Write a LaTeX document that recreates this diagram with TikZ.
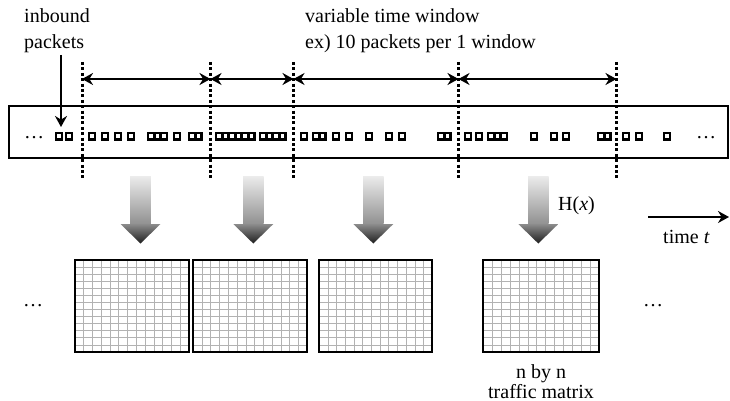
\documentclass[tikz,border=0pt]{standalone}
\usepackage{fontspec}
\setmainfont{Liberation Serif}
\usetikzlibrary{arrows.meta}
\begin{document}
\begin{tikzpicture}[x=1pt,y=-1pt,
  lbl/.style={font=\fontsize{20}{24}\selectfont, inner sep=0pt, anchor=base west},
  clbl/.style={font=\fontsize{20}{24}\selectfont, inner sep=0pt, anchor=base},
  dotln/.style={line width=3pt, dash pattern=on 3pt off 2.4pt},
  winarr/.style={line width=1.8pt, arrows={Stealth[length=11pt,width=12pt]-Stealth[length=11pt,width=12pt]}},
  onearr/.style={line width=1.8pt, -{Stealth[length=11pt,width=12pt]}},
  pkt/.style={line width=2.2pt},
  gridln/.style={line width=0.7pt, gray!60},
  mbox/.style={draw, line width=2pt, inner sep=0pt, minimum height=92pt}
]
\useasboundingbox (0,0) rectangle (730,401);
\fill[white] (0,0) rectangle (730,401);

% top labels
\node[lbl] (in1) at (24,23) {inbound};
\node[lbl] (in2) at (24,49) {packets};
\node[lbl] (vt1) at (305,23) {variable time window};
\node[lbl] (vt2) at (305,49) {ex) 10 packets per 1 window};

% timeline box
\draw[line width=2pt] (9,106) rectangle (728,158);
\node[lbl] (ldots) at (24,139) {\dots};
\node[lbl] (rdots) at (696,139) {\dots};

% packets
\foreach \px in {55,65,88,101,114,127,147,153.5,160,173,188,194.5,
  215,221.5,228,234.5,241,247.5,259,265.5,272,278.5,
  300,312,318.5,332,345,365,385,398,437,443.5,
  464,475,487,493.5,500,530,550,562,597,603.5,622,635,663}
  \draw[pkt] (\px+1.1,132.6) rectangle (\px+6.9,139.4);

% inbound arrow
\coordinate (ia) at (61,55);
\coordinate (ib) at (61,127);
\draw[onearr] (ia) -- (ib);

% window boundaries
\foreach \n/\xx in {1/82,2/210.5,3/293.5,4/458.5,5/616.5}{
  \coordinate (t\n) at (\xx,62);
  \coordinate (b\n) at (\xx,179);
  \coordinate (w\n) at (\xx,79);
  \draw[dotln] (t\n) -- (b\n);
}
\draw[winarr] (w1) -- (w2);
\draw[winarr] (w2) -- (w3);
\draw[winarr] (w3) -- (w4);
\draw[winarr] (w4) -- (w5);

% hash arrows
\foreach \cx in {140.5,253.3,373.3,538.3}{
  \shade[top color=gray!15, bottom color=gray!85] (\cx-10.3,176) rectangle (\cx+10.3,223);
  \shade[top color=gray!90, bottom color=black!88] (\cx-20,224) -- (\cx+20,224) -- (\cx,243.5) -- cycle;
}
\node[lbl] (hx) at (558,210) {H(\textit{x})};

% time arrow
\coordinate (ta) at (648,217);
\coordinate (tb) at (729,217);
\draw[onearr] (ta) -- (tb);
\node[lbl] (tt) at (663,243) {time \textit{t}};

% traffic matrices
\foreach \n/\xa/\xb in {1/75/189,2/193.3/307.3,3/319.3/432.3,4/483.3/599.3}{
  \foreach \i in {1,...,12}{
    \draw[gridln] ({\xa+\i*(\xb-\xa)/13},260) -- ({\xa+\i*(\xb-\xa)/13},352);
    \draw[gridln] (\xa,{260+\i*92/13}) -- (\xb,{260+\i*92/13});
  }
  \node[mbox, minimum width={\xb-\xa}] (m\n) at ({(\xa+\xb)/2},306) {};
}
\node[lbl] (mdl) at (23,306) {\dots};
\node[lbl] (mdr) at (643,306) {\dots};
\node[clbl] (nb1) at (541,378) {n by n};
\node[clbl] (nb2) at (541,398) {traffic matrix};
\end{tikzpicture}
\end{document}
